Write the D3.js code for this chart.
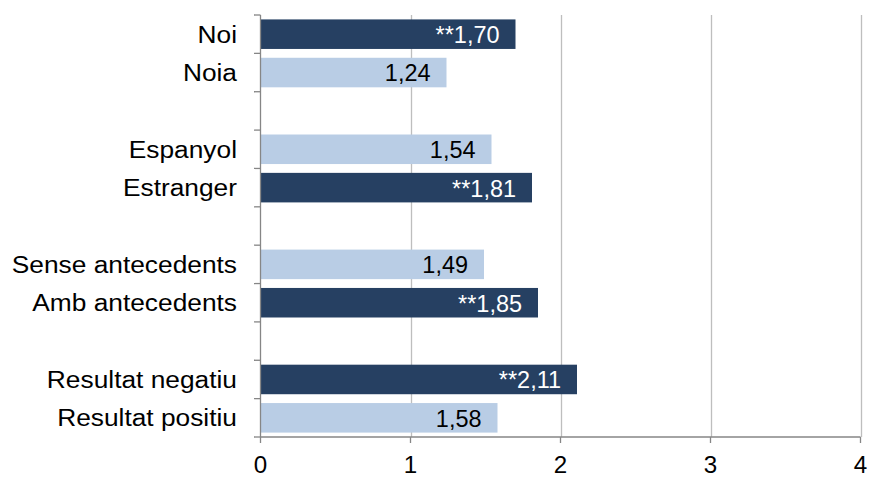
<!DOCTYPE html>
<html><head><meta charset="utf-8">
<script src="https://cdn.jsdelivr.net/npm/d3@7"></script>
<style>
html,body{margin:0;padding:0;background:#fff;}
text{font-family:Arial,"Liberation Sans",sans-serif;}
</style></head>
<body><svg id="c" width="869" height="478"></svg>
<script>
// data
const slots = ["Noi","Noia","_g1","Espanyol","Estranger","_g2","Sense antecedents","Amb antecedents","_g3","Resultat negatiu","Resultat positiu"];
const categories = ["Noi","Noia","Espanyol","Estranger","Sense antecedents","Amb antecedents","Resultat negatiu","Resultat positiu"];
const values = [1.70,1.24,1.54,1.81,1.49,1.85,2.11,1.58];
const significant = [true,false,false,true,false,true,true,false];
const xTicks = [0,1,2,3,4];

const dark = "#264062", light = "#B9CDE5";
const svg = d3.select("#c");
const x = d3.scaleLinear().domain([0,4]).range([260.5,860.5]);
const y = d3.scaleBand().domain(slots).range([15,437]).paddingInner(0.23).paddingOuter(0.115);
const yStep = d3.scaleBand().domain(slots).range([15,437]);

// gridlines
svg.append("g").selectAll("line").data(xTicks.slice(1)).join("line")
  .attr("x1",d=>Math.round(x(d))+0.5).attr("x2",d=>Math.round(x(d))+0.5)
  .attr("y1",15).attr("y2",437).attr("stroke","#BEBEBE").attr("stroke-width",1.3);

// bars
const data = categories.map((c,i)=>({c,v:values[i],s:significant[i]}));
svg.append("g").selectAll("rect").data(data).join("rect")
  .attr("x",x(0)).attr("y",d=>y(d.c)).attr("width",d=>x(d.v)-x(0)).attr("height",y.bandwidth())
  .attr("fill",d=>d.s?dark:light);

// value labels
const fmt = v => d3.format(".2f")(v).replace(".",",");
svg.append("g").selectAll("text").data(data).join("text")
  .attr("transform",d=>`translate(${x(d.v)-16},${y(d.c)+y.bandwidth()/2+1}) scale(1.02,1)`)
  .attr("text-anchor","end").attr("dominant-baseline","central")
  .attr("font-size",23).attr("fill",d=>d.s?"#fff":"#000")
  .text(d=>(d.s?"**":"")+fmt(d.v));

// y axis
const ax = svg.append("g").attr("stroke","#868686").attr("stroke-width",1.3);
ax.append("line").attr("x1",260.5).attr("x2",260.5).attr("y1",15).attr("y2",437);
const bounds = slots.map(s=>yStep(s)).concat([437]);
ax.selectAll(".yt").data(bounds).join("line").attr("class","yt")
  .attr("x1",254).attr("x2",260.5).attr("y1",d=>d).attr("y2",d=>d);
// x axis
ax.append("line").attr("x1",260.5).attr("x2",860.5).attr("y1",437).attr("y2",437);
ax.selectAll(".xt").data(xTicks).join("line").attr("class","xt")
  .attr("x1",d=>x(d)).attr("x2",d=>x(d)).attr("y1",437).attr("y2",443);

// category labels
svg.append("g").selectAll("text").data(categories).join("text")
  .attr("transform",c=>`translate(237,${yStep(c)+yStep.bandwidth()/2}) scale(1.12,1)`)
  .attr("text-anchor","end").attr("dominant-baseline","central")
  .attr("font-size",23.5).attr("fill","#000").text(c=>c);

// x tick labels
svg.append("g").selectAll("text").data(xTicks).join("text")
  .attr("transform",d=>`translate(${x(d)},465) scale(1.05,1)`)
  .attr("text-anchor","middle").attr("dominant-baseline","central")
  .attr("font-size",23).attr("fill","#000").text(d=>d);
</script></body></html>
